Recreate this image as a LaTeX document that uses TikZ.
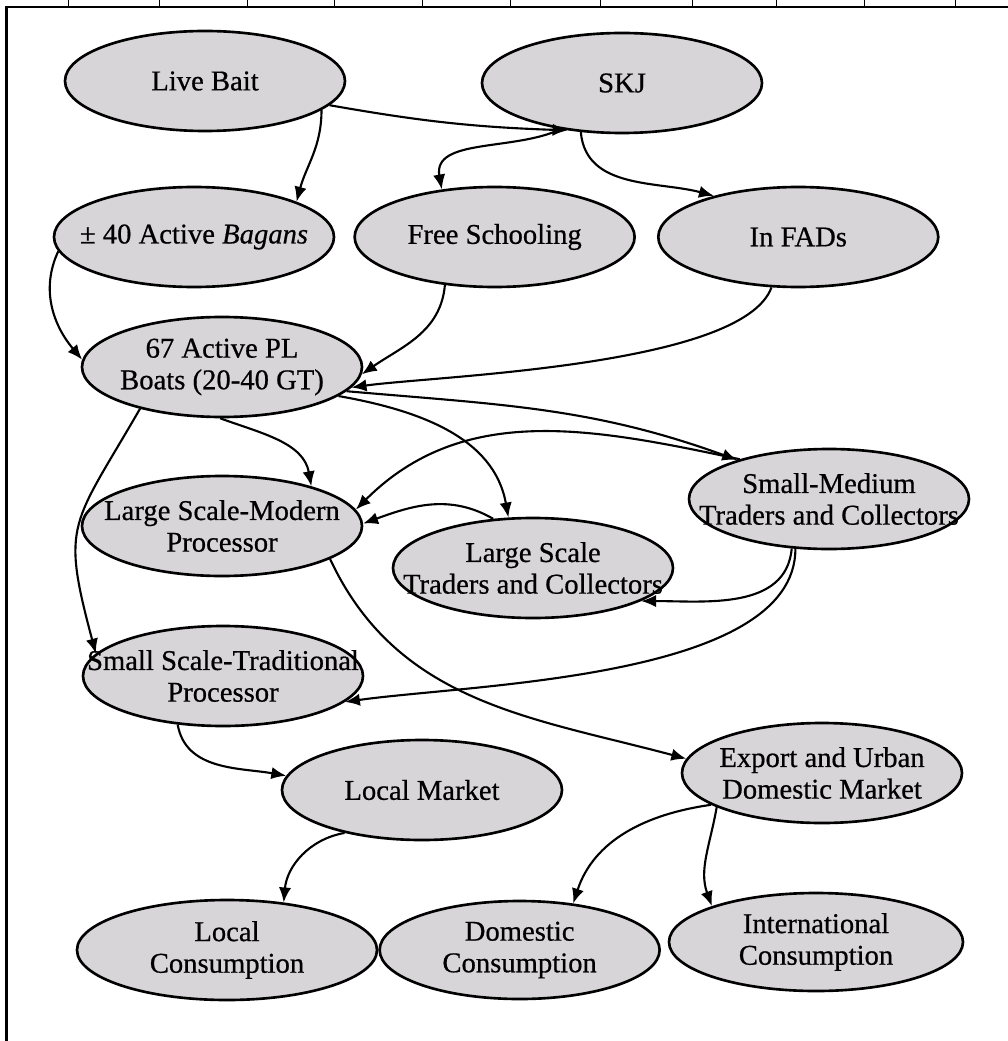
\documentclass[tikz,border=0pt]{standalone}
\usepackage{fontspec}
\setmainfont{Liberation Serif}[FakeBold=0.6]
\usetikzlibrary{positioning}
\usetikzlibrary{shapes.geometric}
\usetikzlibrary{arrows.meta}
\definecolor{nodegray}{RGB}{215,213,215}

\begin{document}
\begin{tikzpicture}[%
    node distance=0.4cm,
    line width=1.2pt,
    >={Latex[length=8.5pt,width=7pt]},
fishnode/.style={ellipse, align=center, draw=black, fill=nodegray, line width=1.5pt, inner sep=-2cm, minimum width=5.6cm, minimum height=2cm, font=\fontsize{16.3pt}{18pt}\selectfont}
]

\useasboundingbox (0,0) rectangle (20.16,-20.82);

% frame
\draw[line width=1.3pt] (0.13,-20.82) -- (0.13,-0.14) -- (20.16,-0.14);
\draw[line width=0.4pt] (1.36,0) -- (1.36,-0.14) (3.18,0) -- (3.18,-0.14) (4.94,0) -- (4.94,-0.14)
    (6.68,0) -- (6.68,-0.14) (8.44,0) -- (8.44,-0.14) (10.2,0) -- (10.2,-0.14) (12,0) -- (12,-0.14)
    (13.84,0) -- (13.84,-0.14) (15.52,0) -- (15.52,-0.14) (17.28,0) -- (17.28,-0.14) (19.1,0) -- (19.1,-0.14);

% catch Nodes
\node[fishnode]      (livebait) at (4.10,-1.62) {Live Bait};
\node[fishnode]      (skj) at (12.44,-1.66) {SKJ};

% source Nodes
\node[fishnode]      (bagans) at (3.88,-4.74) {± 40 Active \textit{Bagans}};
\node[fishnode]      (freeschool) [right=0.36cm of bagans] {Free Schooling};
\node[fishnode]      (fads) [right=0.42cm of freeschool] {In FADs};

% boats
\node[fishnode]      (boats) at (4.44,-7.34) {67 Active PL\\ Boats (20-40 GT)};

% processors and traders
\node[fishnode]      (modern) at (4.44,-10.52) {Large Scale-Modern\\ Processor};
\node[fishnode]      (smalltrader) at (16.58,-9.98) {Small-Medium\\ Traders and Collectors};
\node[fishnode]      (largetrader) at (10.66,-11.36) {Large Scale\\ Traders and Collectors};
\node[fishnode]      (traditional) at (4.46,-13.52) {Small Scale-Traditional\\ Processor};

% markets
\node[fishnode]      (localmarket) at (8.44,-15.80) {Local Market};
\node[fishnode]      (export) at (16.44,-15.46) {Export and Urban\\ Domestic Market};

% consumption
\node[fishnode, minimum width=6cm]      (localcons) at (4.54,-19.0) {Local\\ Consumption};
\node[fishnode, minimum height=1.96cm]      (domcons) [right=0cm of localcons] {Domestic\\ Consumption};
\node[fishnode, minimum width=5.88cm, minimum height=1.96cm]      (intcons) at (16.32,-18.84) {International\\ Consumption};


% catch Lines
\draw[->] (livebait.-11) to[out=-10,in=178] (skj.221);
\draw[->] (livebait.-14) to[out=-90,in=75] (bagans.19);
\draw[->] (skj.217) to[out=205,in=100] (freeschool.138);
\draw[->] (skj.230) to[out=-85,in=165] (fads.154);

% source Lines
\draw[->] (bagans.186) to[out=245,in=130] (boats.177);
\draw[->] (freeschool.224) to[out=-95,in=35] (boats.-3);
\draw[->] (fads.242) to[out=-110,in=8,looseness=0.5] (boats.-9);

% boat Lines
\draw[->] (boats.-11) to[out=-5,in=160] (smalltrader.157);
\draw[->] (boats.-14) to[out=-10,in=100] (largetrader.116);
\draw[->] (boats.-92) to[out=-20,in=100] (modern.24);
\draw[->] (boats.207) to[out=240,in=105,looseness=1.4] (traditional.170);

% trader Lines
\draw[->] (smalltrader.156) to[out=168,in=45] (modern.7);
\draw[->] (largetrader.129) to[out=150,in=20] (modern.1);
\draw[->] (smalltrader.233) to[out=-95,in=0] (largetrader.-17);
\draw[->] (smalltrader.236) to[out=-90,in=8,looseness=0.7] (traditional.-12);
\draw[->] (modern.-17) to[out=-65,in=165] (export.174);

% market Lines
\draw[->] (traditional.227) to[out=-80,in=170] (localmarket.174);
\draw[->] (localmarket.209) to[out=190,in=85] (localcons.40);
\draw[->] (export.196) to[out=188,in=72] (domcons.41);
\draw[->] (export.198) to[out=-100,in=110] (intcons.161);

\end{tikzpicture}
\end{document}
